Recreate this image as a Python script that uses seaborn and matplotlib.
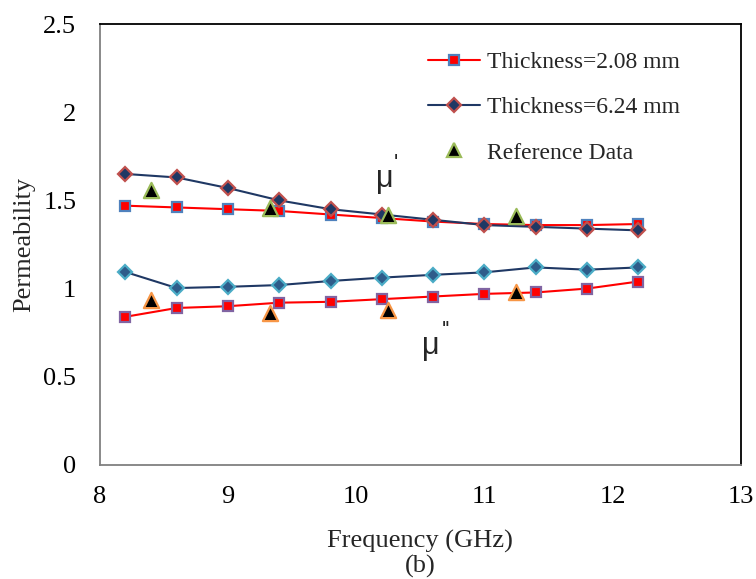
import numpy as np
import pandas as pd
import matplotlib
matplotlib.use("Agg")
import matplotlib.pyplot as plt
import seaborn as sns
from matplotlib.lines import Line2D

sns.set_theme(style="white")
plt.rcParams['font.family'] = ['Liberation Serif', 'DejaVu Serif']

freq = [8.2, 8.6, 9.0, 9.4, 9.8, 10.2, 10.6, 11.0, 11.4, 11.8, 12.2]
mu1_t208 = [1.47, 1.46, 1.45, 1.44, 1.42, 1.40, 1.38, 1.366, 1.36, 1.36, 1.366]
mu1_t624 = [1.65, 1.63, 1.57, 1.50, 1.45, 1.42, 1.39, 1.36, 1.35, 1.34, 1.33]
mu2_t208 = [0.84, 0.89, 0.90, 0.92, 0.925, 0.94, 0.955, 0.97, 0.978, 1.00, 1.04]
mu2_t624 = [1.094, 1.003, 1.01, 1.02, 1.043, 1.062, 1.078, 1.092, 1.12, 1.107, 1.12]
ref_freq = [8.4, 9.33, 10.25, 11.25]
ref_mu1 = [1.56, 1.457, 1.42, 1.41]
ref_mu2 = [0.935, 0.86, 0.877, 0.98]

xticks = [8, 9, 10, 11, 12, 13]
yticks = [0, 0.5, 1, 1.5, 2, 2.5]
ytick_labels = ["0", "0.5", "1", "1.5", "2", "2.5"]

fig = plt.figure(figsize=(7.56, 5.79), dpi=100)
ax = fig.add_axes([0.132, 0.197, 0.848, 0.7615])

RED = "#FF0000"
NAVY = "#1F3864"

sns.lineplot(x=freq, y=mu1_t208, ax=ax, color=RED, lw=1.5, marker="s", markersize=7.5,
             markerfacecolor=RED, markeredgecolor="#4F81BD", markeredgewidth=1.6)
sns.lineplot(x=freq, y=mu2_t208, ax=ax, color=RED, lw=1.5, marker="s", markersize=7.5,
             markerfacecolor=RED, markeredgecolor="#8064A2", markeredgewidth=1.6)
sns.lineplot(x=freq, y=mu1_t624, ax=ax, color=NAVY, lw=1.5, marker="D", markersize=7,
             markerfacecolor=NAVY, markeredgecolor="#C0504D", markeredgewidth=1.6)
sns.lineplot(x=freq, y=mu2_t624, ax=ax, color=NAVY, lw=1.5, marker="D", markersize=7,
             markerfacecolor="#2E5C8A", markeredgecolor="#4BACC6", markeredgewidth=1.6)
sns.scatterplot(x=ref_freq, y=ref_mu1, ax=ax, marker="^", s=120, color="black",
                edgecolor="#9BBB59", linewidth=1.6, zorder=5)
sns.scatterplot(x=ref_freq, y=ref_mu2, ax=ax, marker="^", s=120, color="black",
                edgecolor="#F79646", linewidth=1.6, zorder=5)

ax.set_xlim(8, 13)
ax.set_ylim(0, 2.5)
ax.set_xticks(xticks)
ax.set_xticklabels([str(t) for t in xticks])
ax.set_yticks(yticks)
ax.set_yticklabels(ytick_labels)
ax.tick_params(axis="both", direction="out", length=4, width=1.2, color="#808080",
               labelsize=19, labelcolor="black")
ax.tick_params(axis="x", pad=11)
ax.tick_params(axis="y", pad=13)
for s in ["left", "bottom"]:
    ax.spines[s].set_color("#808080")
    ax.spines[s].set_linewidth(1.3)
for s in ["top", "right"]:
    ax.spines[s].set_color("black")
    ax.spines[s].set_linewidth(1.3)

ax.set_xlabel("Frequency (GHz)\n(b)", fontsize=19, labelpad=16, linespacing=1.12)
ax.set_ylabel("Permeability", fontsize=19, labelpad=6)

sans = ["Liberation Sans", "DejaVu Sans"]
ax.text(10.22, 1.62, "μ", fontsize=22, family=sans, ha="center", va="center")
ax.text(10.31, 1.71, "'", fontsize=16, family=sans, ha="center", va="center")
ax.text(10.58, 0.675, "μ", fontsize=22, family=sans, ha="center", va="center")
ax.text(10.70, 0.76, "''", fontsize=16, family=sans, ha="center", va="center")

handles = [
    Line2D([], [], color=RED, lw=1.5, marker="s", markersize=7.5, markerfacecolor=RED,
           markeredgecolor="#4F81BD", markeredgewidth=1.6),
    Line2D([], [], color=NAVY, lw=1.5, marker="D", markersize=7, markerfacecolor=NAVY,
           markeredgecolor="#C0504D", markeredgewidth=1.6),
    Line2D([], [], color="none", marker="^", markersize=10, markerfacecolor="black",
           markeredgecolor="#9BBB59", markeredgewidth=1.6),
]
labels = ["Thickness=2.08 mm", "Thickness=6.24 mm", "Reference Data"]
ax.legend(handles, labels, loc="upper left", bbox_to_anchor=(0.512, 0.937), frameon=False,
          fontsize=17, labelspacing=1.0, handlelength=2.2, handletextpad=0.3,
          borderpad=0, borderaxespad=0)

fig.savefig("out.png", dpi=100)
